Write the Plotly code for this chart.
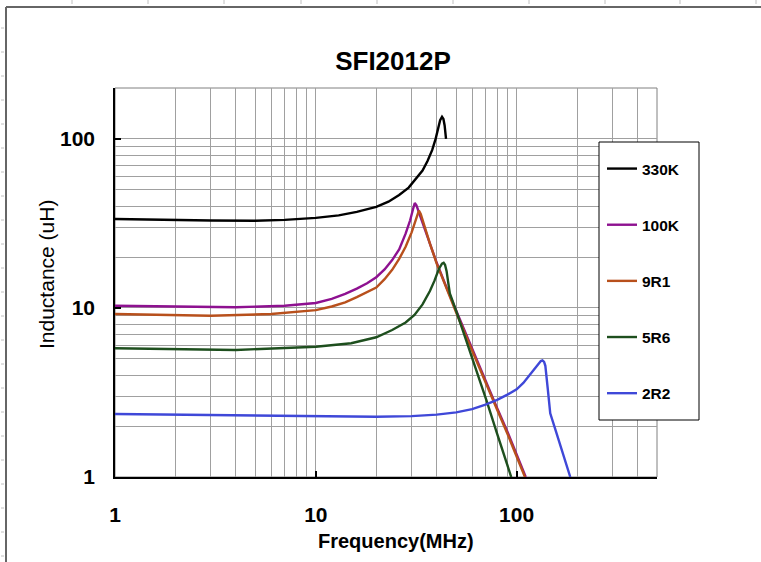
import plotly.graph_objects as go

# ---------------- data ----------------
f_330K = [1, 2, 3, 5, 7, 10, 13, 16, 20, 23, 26, 29, 32, 34, 36, 38, 39.5, 40.6, 41.6, 42.5, 43.2, 43.8, 44.5]
L_330K = [33.6, 33.1, 32.9, 32.8, 33.2, 34.1, 35.3, 37.0, 39.6, 42.5, 46.6, 51.5, 59, 65, 74, 86, 100, 117, 129, 135, 131, 120, 100]

f_100K = [1, 2, 4, 7, 10, 12, 14, 16, 18, 20, 22, 24, 26, 28, 29.5, 30.5, 31.1, 31.7, 32.5, 33.5, 35, 37, 40, 45, 50, 60, 70, 80, 90, 100, 111]
L_100K = [10.3, 10.2, 10.1, 10.3, 10.7, 11.3, 12.1, 13.0, 14.0, 15.2, 16.9, 19.2, 22.2, 27.5, 33, 38.5, 41.7, 40.5, 37, 33, 29, 24, 18.5, 13.0, 9.6, 5.7, 3.65, 2.55, 1.85, 1.36, 1.0]

f_9R1 = [1, 3, 6, 10, 12, 14, 16, 18, 20, 22, 24, 26, 28, 30, 31.5, 32.6, 33.3, 34, 35, 37, 40, 45, 50, 60, 70, 80, 90, 100, 110]
L_9R1 = [9.2, 9.0, 9.2, 9.7, 10.2, 10.8, 11.6, 12.4, 13.2, 14.8, 16.8, 19.5, 23, 28, 33.5, 37.7, 36, 33, 29.5, 24, 18.3, 12.8, 9.4, 5.6, 3.6, 2.5, 1.8, 1.33, 1.0]

f_5R6 = [1, 4, 10, 15, 20, 24, 28, 31, 34, 37, 39, 41, 42.5, 43.3, 44, 44.8, 45.5, 46.5, 50, 55, 60, 65, 70.7, 80, 94]
L_5R6 = [5.77, 5.64, 5.9, 6.18, 6.71, 7.4, 8.2, 9.1, 10.5, 12.6, 14.5, 17.0, 18.3, 18.5, 18.0, 16.5, 14.5, 12.2, 9.6, 6.9, 5.0, 3.8, 2.85, 1.8, 1.0]

f_2R2 = [1, 4, 10, 20, 30, 40, 50, 60, 70, 80, 90, 100, 108, 115, 122, 128, 132, 134.5, 137, 139, 141, 143, 145, 147, 155, 165, 175, 185]
L_2R2 = [2.36, 2.31, 2.29, 2.27, 2.29, 2.34, 2.41, 2.52, 2.68, 2.86, 3.07, 3.3, 3.6, 3.95, 4.35, 4.65, 4.85, 4.9, 4.8, 4.55, 4.0, 3.3, 2.8, 2.38, 1.95, 1.54, 1.25, 1.0]

series_names = ["330K", "100K", "9R1", "5R6", "2R2"]
series_f = [f_330K, f_100K, f_9R1, f_5R6, f_2R2]
series_L = [L_330K, L_100K, L_9R1, L_5R6, L_2R2]
series_colors = ["#000000", "#8E1190", "#B8501C", "#1E4F1E", "#3F48D8"]

x_ticks = [1, 10, 100]
x_ticktext = ["1", "10", "100"]
y_ticks = [1, 10, 100]
y_ticktext = ["1", "10", "100"]
x_minor = [k * 10 ** d for d in (0, 1, 2) for k in range(2, 10) if k * 10 ** d < 500]
y_minor = [k * 10 ** d for d in (0, 1) for k in range(2, 10)]

FONT = "Arial, Liberation Sans, sans-serif"
GRID = "#a0a0a0"

# pixel helpers for the fixed plot area (115..657 x 88..477)
PX0, PX1, PY0, PY1 = 115, 657, 88, 477
def px(x):
    return (x - PX0) / (PX1 - PX0)
def py(y):
    return (PY1 - y) / (PY1 - PY0)

fig = go.Figure()
for name, fx, ly, col in zip(series_names, series_f, series_L, series_colors):
    fig.add_trace(go.Scatter(
        x=fx, y=ly, name=name, mode="lines", legendgroup=name,
        line=dict(color=col, width=2.4),
    ))

fig.update_layout(
    width=761, height=562,
    margin=dict(l=PX0, r=761 - PX1, t=PY0, b=562 - PY1, autoexpand=False),
    paper_bgcolor="white", plot_bgcolor="white",
    font=dict(family=FONT, color="black"),
    title=dict(text="SFI2012P", x=393 / 761, xanchor="center", xref="container",
               y=1 - 61 / 562, yanchor="middle", yref="container",
               font=dict(family=FONT, size=26, weight="bold", color="black")),
    showlegend=True,
    legend=dict(x=px(602), y=py(152), xanchor="left", yanchor="top",
                borderwidth=0, bgcolor="rgba(0,0,0,0)",
                font=dict(family=FONT, size=15.5, weight="bold", color="black"),
                tracegroupgap=33, itemwidth=30),
)

fig.update_xaxes(
    type="log", range=[0, 2.699], automargin=False,
    tickmode="array", tickvals=x_ticks, ticktext=x_ticktext,
    showgrid=True, gridcolor=GRID, gridwidth=1,
    minor=dict(tickmode="array", tickvals=x_minor, showgrid=True, gridcolor=GRID, gridwidth=1, ticks=""),
    showline=True, linecolor="black", linewidth=1.5,
    ticks="inside", ticklen=6, tickcolor="black", tickwidth=1.5,
    tickfont=dict(family=FONT, size=21, weight="bold", color="black"),
    ticklabelstandoff=18,
    zeroline=False,
)
fig.update_yaxes(
    type="log", range=[0, 2.301], automargin=False,
    tickmode="array", tickvals=y_ticks, ticktext=y_ticktext,
    showgrid=True, gridcolor=GRID, gridwidth=1,
    minor=dict(tickmode="array", tickvals=y_minor, showgrid=True, gridcolor=GRID, gridwidth=1, ticks=""),
    showline=True, linecolor="black", linewidth=1.5,
    ticks="inside", ticklen=6, tickcolor="black", tickwidth=1.5,
    tickfont=dict(family=FONT, size=21, weight="bold", color="black"),
    ticklabelstandoff=14,
    zeroline=False,
)

# axis titles
fig.add_annotation(text="Frequency(MHz)", xref="paper", yref="paper", x=px(396), y=py(541),
                   showarrow=False, xanchor="center", yanchor="middle",
                   font=dict(family=FONT, size=20, weight="bold", color="black"))
fig.add_annotation(text="Inductance (uH)", xref="paper", yref="paper", x=px(46), y=py(275),
                   showarrow=False, xanchor="center", yanchor="middle", textangle=-90,
                   font=dict(family=FONT, size=21, color="black"))

# plot-area frame (gray)
fig.add_shape(type="rect", xref="paper", yref="paper", x0=0, y0=0, x1=1, y1=1,
              line=dict(color="#808080", width=1), layer="below")
# legend box
fig.add_shape(type="rect", xref="paper", yref="paper", x0=px(599), x1=px(699), y0=py(142), y1=py(420),
              line=dict(color="black", width=1), fillcolor="white", layer="above")
# chart-area border (top & left)
fig.add_shape(type="line", xref="paper", yref="paper",
              x0=px(6), x1=px(761), y0=py(7), y1=py(7),
              line=dict(color="#666666", width=2))
fig.add_shape(type="line", xref="paper", yref="paper",
              x0=px(6), x1=px(6), y0=py(7), y1=py(562),
              line=dict(color="#666666", width=2))
# faint page-ruler ticks along the top and left edges
for rx in (72, 148, 224, 301, 377, 453, 529, 605, 680, 756):
    fig.add_shape(type="line", xref="paper", yref="paper", x0=px(rx), x1=px(rx), y0=py(0), y1=py(4),
                  line=dict(color="#c0c0c0", width=1))
for ry in range(30, 562, 24):
    fig.add_shape(type="line", xref="paper", yref="paper", x0=px(1), x1=px(4), y0=py(ry - 2), y1=py(ry - 2),
                  line=dict(color="#c0c0c0", width=1))

fig.write_html("out.html", config={"displayModeBar": False},
               post_script="document.body.style.margin='0px';")
